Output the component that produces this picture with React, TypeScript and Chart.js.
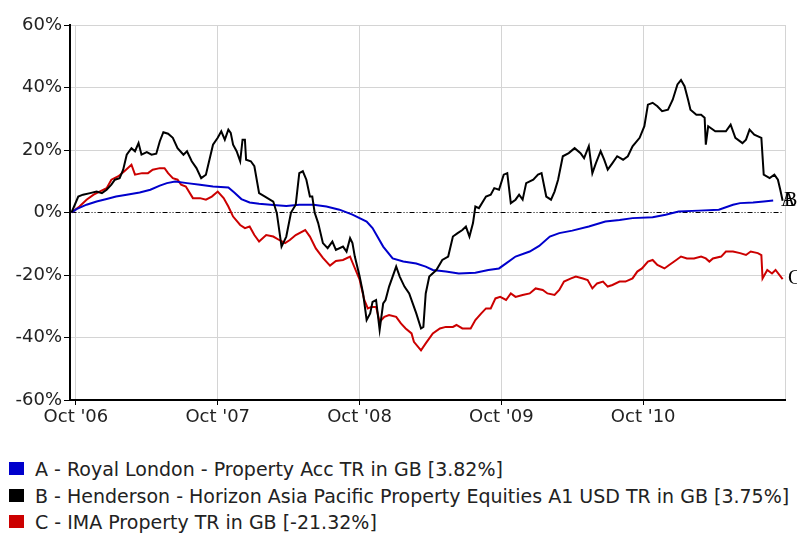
import React, { useEffect, useRef } from "react";
import { Chart, registerables } from "chart.js";
Chart.register(...registerables);

// x values are months since Oct 2006
const tickMonths = [0, 12, 24, 36, 48, 60];
const tickLabels = ["Oct '06", "Oct '07", "Oct '08", "Oct '09", "Oct '10", ""];
const yTicks = [-60, -40, -20, 0, 20, 40, 60];

const seriesTags = ["A", "B", "C"];
const seriesNames = [
  "A - Royal London - Property Acc TR in GB [3.82%]",
  "B - Henderson - Horizon Asia Pacific Property Equities A1 USD TR in GB [3.75%]",
  "C - IMA Property TR in GB [-21.32%]",
];
const seriesColors = ["#0000cc", "#000000", "#cc0000"];

const blueMonths = [-0.37, 0.05, 0.9, 1.75, 2.6, 3.4, 4.3, 5.4, 6.3, 7.1, 7.7, 8.4, 9.4, 10.5, 11.6, 12.9, 13.4, 14.0, 14.7, 15.5, 16.7, 17.8, 18.9, 20.1, 21.2, 22.3, 23.4, 24.6, 25.1, 26.0, 26.8, 27.7, 28.8, 29.6, 30.2, 31.3, 32.4, 33.8, 34.9, 35.8, 36.4, 37.2, 38.4, 39.2, 40.1, 40.9, 42.0, 43.4, 44.8, 46.0, 47.1, 48.8, 49.9, 51.0, 52.7, 54.4, 55.6, 56.2, 57.3, 58.2, 59.0];
const blueValues = [0, 1.1, 2.5, 3.5, 4.3, 5.1, 5.7, 6.4, 7.3, 8.6, 9.4, 9.9, 9.4, 8.9, 8.3, 8.0, 6.4, 4.3, 3.2, 2.8, 2.4, 2.1, 2.5, 2.5, 1.9, 0.9, -0.7, -2.9, -5, -10.9, -14.7, -15.7, -16.3, -17.3, -18.4, -18.9, -19.5, -19.3, -18.4, -17.9, -16.3, -14.1, -12.5, -10.7, -7.7, -6.6, -5.8, -4.5, -2.9, -2.4, -1.8, -1.5, -0.7, 0.3, 0.6, 0.9, 2.5, 3.0, 3.2, 3.5, 3.82];

const blackMonths = [-0.37, 0.2, 0.6, 1.2, 1.75, 2.2, 2.6, 3.0, 3.3, 3.7, 4.0, 4.3, 4.7, 5.0, 5.3, 5.55, 6.0, 6.4, 6.8, 7.1, 7.4, 7.8, 8.2, 8.6, 9.1, 9.4, 9.8, 10.2, 10.6, 11.0, 11.6, 12.0, 12.3, 12.6, 12.9, 13.1, 13.3, 13.6, 13.9, 14.1, 14.3, 14.4, 14.8, 15.1, 15.5, 16.0, 16.7, 17.0, 17.4, 17.8, 18.2, 18.6, 18.9, 19.2, 19.5, 19.8, 20.0, 20.2, 20.5, 20.9, 21.3, 21.7, 22.0, 22.6, 22.9, 23.2, 23.4, 23.6, 24.0, 24.3, 24.6, 24.9, 25.1, 25.4, 25.7, 26.0, 26.2, 26.5, 27.1, 27.4, 27.8, 28.2, 28.8, 29.2, 29.4, 29.6, 29.9, 30.5, 31.0, 31.5, 31.9, 32.3, 32.7, 33.0, 33.3, 33.6, 33.8, 34.1, 34.7, 35.1, 35.4, 35.8, 36.2, 36.5, 36.8, 37.2, 37.5, 37.8, 38.1, 38.7, 39.1, 39.4, 39.8, 40.2, 40.5, 40.8, 41.2, 41.7, 42.2, 42.7, 43.0, 43.4, 43.7, 44.0, 44.4, 44.7, 45.0, 45.4, 45.8, 46.3, 46.7, 47.1, 47.7, 48.1, 48.4, 48.8, 49.2, 49.6, 50.1, 50.5, 50.9, 51.2, 51.5, 51.8, 52.0, 52.5, 52.9, 53.2, 53.3, 53.5, 54.1, 55.0, 55.4, 55.8, 56.4, 56.7, 57.0, 57.4, 58.0, 58.2, 58.7, 59.1, 59.4, 59.6, 59.8];
const blackValues = [0, 5.1, 5.7, 6.2, 6.7, 6.2, 7.3, 8.9, 10.5, 11, 13.7, 18.5, 20.6, 19.6, 22.2, 18.5, 19.3, 18.5, 18.8, 22.8, 25.7, 25.2, 23.9, 20.6, 18.5, 19.6, 16.4, 14.2, 11.0, 12.1, 21.7, 23.9, 26, 23.3, 26.5, 25.5, 21.7, 19.6, 16.4, 23.3, 23.3, 16.9, 16.4, 14.8, 6.2, 5.1, 3.5, -0.2, -10.9, -7.7, 0, 2.5, 12.6, 13.2, 10.5, 5.1, 5.1, 0, -3.4, -9.8, -11.4, -9.3, -12, -10.9, -12.5, -8.2, -9.8, -14.1, -20.3, -25.9, -34.4, -32.3, -28.6, -28, -37.6, -29.1, -28, -23.7, -17.3, -20.5, -23.7, -25.9, -32.3, -37.1, -36.6, -25.9, -20.5, -18.4, -15.2, -14.1, -7.7, -6.6, -5.6, -4.5, -7.7, -3.4, 1.9, 1.4, 5.1, 5.7, 7.8, 7.3, 12.1, 12.6, 3.0, 4.1, 5.7, 4.1, 9.4, 10.5, 12.1, 12.6, 5.1, 4.1, 6.7, 10.5, 18, 19, 20.6, 19, 17.4, 21.2, 12.6, 15.8, 19.6, 16.9, 13.7, 15.8, 18, 16.9, 18, 21.2, 23.9, 27.6, 34.5, 35.1, 34, 32.4, 32.9, 36.1, 41, 42.4, 40.4, 36.1, 32.9, 31.3, 31.3, 30.3, 21.7, 27.6, 26, 26, 28.1, 23.9, 22.2, 23.3, 26.5, 24.9, 23.9, 12.1, 11, 12.1, 10.5, 7.3, 3.75];

const redMonths = [-0.37, 0.3, 0.9, 1.5, 2.0, 2.6, 3.0, 3.6, 4.1, 4.7, 5.0, 5.6, 6.1, 6.5, 7.1, 7.5, 7.8, 8.2, 8.6, 8.9, 9.3, 9.9, 10.5, 11.0, 11.5, 12.0, 12.5, 12.9, 13.3, 13.9, 14.3, 14.7, 15.1, 15.5, 16.1, 16.7, 17.2, 17.7, 18.1, 18.6, 19.4, 19.8, 20.3, 20.9, 21.5, 22.0, 22.6, 23.2, 23.4, 24.0, 24.4, 24.7, 25.0, 25.4, 25.7, 26.1, 26.5, 27.1, 27.5, 27.9, 28.4, 28.6, 29.2, 29.6, 30.2, 30.8, 31.3, 31.9, 32.2, 32.7, 33.4, 33.8, 34.3, 34.7, 35.1, 35.5, 35.9, 36.4, 36.8, 37.2, 37.8, 38.4, 38.9, 39.5, 39.9, 40.5, 40.9, 41.3, 41.9, 42.3, 42.9, 43.3, 43.7, 44.1, 44.6, 45.0, 45.4, 46.0, 46.5, 47.1, 47.5, 47.9, 48.4, 48.8, 49.2, 49.8, 50.2, 50.8, 51.2, 51.7, 52.3, 52.9, 53.3, 53.6, 53.9, 54.6, 55.0, 55.6, 56.2, 56.7, 57.1, 57.7, 58.0, 58.1, 58.5, 58.9, 59.2, 59.8];
const redValues = [0, 1.9, 4.1, 5.7, 6.7, 7.8, 10.5, 11.6, 13.2, 15.3, 12.1, 12.6, 12.6, 13.7, 14.2, 14.2, 12.6, 11, 10.5, 8.9, 8.3, 4.6, 4.6, 4.1, 5.1, 6.7, 4.6, 1.9, -1.3, -4, -5, -4.5, -7.2, -9.3, -7.2, -7.7, -8.8, -9.8, -8.8, -7.2, -5.6, -7.7, -11.5, -14.5, -17, -15.5, -15.2, -14.1, -16, -21.4, -28, -30.7, -30.2, -30.2, -35, -33.4, -32.8, -33.4, -35.5, -37.1, -38.7, -41.4, -44.1, -41.9, -38.7, -37.1, -36.6, -36.6, -36, -37.1, -37.1, -34.4, -32.3, -30.7, -30.7, -27.5, -27, -28, -25.9, -27, -26.4, -25.9, -24.3, -24.8, -25.9, -26.4, -24.8, -22.1, -21.1, -20.5, -21.1, -21.6, -24.3, -22.7, -22.1, -23.7, -23.2, -22.1, -22.1, -21.1, -18.9, -17.9, -15.7, -15.2, -16.8, -17.9, -16.8, -15.2, -14.1, -14.7, -14.7, -14.1, -14.7, -15.7, -14.7, -14.1, -12.5, -12.5, -13, -13.6, -12.5, -13, -13.6, -21.1, -18.4, -19.5, -18.4, -21.32];

const zeroMonths = [-0.37, 59.8];
const zeroValues = [0, 0];

const toPoints = (xs: number[], ys: number[]) => xs.map((x, i) => ({ x, y: ys[i] }));

const SANS = '"DejaVu Sans", Verdana, sans-serif';

const endLabelPlugin = {
  id: "endLabels",
  afterDatasetsDraw(chart: any) {
    const ctx = chart.ctx;
    const offsets = [-4, -1, 3];
    ctx.save();
    ctx.font = '20px "Liberation Serif", "Times New Roman", serif';
    ctx.fillStyle = "#000";
    ctx.textBaseline = "middle";
    ctx.textAlign = "left";
    [0, 1, 2].forEach((i) => {
      const meta = chart.getDatasetMeta(i);
      const pt = meta.data[meta.data.length - 1];
      if (!pt) return;
      ctx.fillText(seriesTags[i], chart.chartArea.right + offsets[i], pt.y);
    });
    ctx.restore();
  },
};

export default function App() {
  const ref = useRef<HTMLCanvasElement | null>(null);
  useEffect(() => {
    if (!ref.current) return;
    const chart = new Chart(ref.current, {
      type: "line",
      data: {
        datasets: [
          { label: seriesNames[0], data: toPoints(blueMonths, blueValues), borderColor: seriesColors[0], borderWidth: 2, pointRadius: 0, tension: 0, order: 1 },
          { label: seriesNames[1], data: toPoints(blackMonths, blackValues), borderColor: seriesColors[1], borderWidth: 2, pointRadius: 0, tension: 0, order: 0 },
          { label: seriesNames[2], data: toPoints(redMonths, redValues), borderColor: seriesColors[2], borderWidth: 2, pointRadius: 0, tension: 0, order: 2 },
          { label: "zero", data: toPoints(zeroMonths, zeroValues), borderColor: "#000", borderWidth: 1, borderDash: [5, 2, 1, 2, 1, 2], pointRadius: 0, order: 3 },
        ],
      },
      options: {
        animation: false,
        responsive: false,
        devicePixelRatio: 1,
        layout: { padding: { top: 25, right: 12, left: 0, bottom: 0 } },
        plugins: { legend: { display: false }, tooltip: { enabled: false } },
        scales: {
          x: {
            type: "linear",
            min: -0.5,
            max: 60,
            afterBuildTicks: (s: any) => {
              s.ticks = tickMonths.map((v) => ({ value: v }));
            },
            afterFit: (s: any) => {
              s.height = 40;
            },
            ticks: {
              autoSkip: false,
              maxRotation: 0,
              padding: 2,
              color: "#222",
              font: { family: SANS, size: 18 },
              callback: (_v: any, i: number) => tickLabels[i] ?? "",
            },
            grid: {
              color: "#d4d4d4",
              lineWidth: 1,
              tickLength: 5,
              tickColor: (c: any) => (c.tick && c.tick.value === 60 ? "rgba(0,0,0,0)" : "#000"),
            },
            border: { color: "#000", width: 2 },
          },
          y: {
            min: -60,
            max: 60,
            afterBuildTicks: (s: any) => {
              s.ticks = yTicks.map((v) => ({ value: v }));
            },
            afterFit: (s: any) => {
              s.width = 70;
            },
            ticks: {
              padding: 2,
              color: "#222",
              font: { family: SANS, size: 18 },
              callback: (v: any) => v + "%",
            },
            grid: {
              color: (c: any) => (c.tick && c.tick.value === 0 ? "rgba(0,0,0,0)" : "#d4d4d4"),
              lineWidth: 1,
              tickLength: 6,
              tickColor: "#000",
            },
            border: { color: "#000", width: 2 },
          },
        },
      },
      plugins: [endLabelPlugin],
    } as any);
    return () => chart.destroy();
  }, []);

  const rowCenters = [469, 496, 522];
  return (
    <div style={{ position: "absolute", left: 0, top: 0, width: 797, height: 534, background: "#fff", overflow: "hidden" }}>
      <canvas ref={ref} width={797} height={440} style={{ display: "block", width: 797, height: 440 }} />
      {seriesNames.map((name, i) => (
        <div key={name} style={{ position: "absolute", left: 0, top: rowCenters[i] - 11, height: 22, whiteSpace: "nowrap" }}>
          <span style={{ position: "absolute", left: 9, top: 4, width: 15, height: 13, background: seriesColors[i] }} />
          <span style={{ position: "absolute", left: 35, top: 0, lineHeight: "22px", fontFamily: SANS, fontSize: 19, color: "#222" }}>{name}</span>
        </div>
      ))}
    </div>
  );
}
